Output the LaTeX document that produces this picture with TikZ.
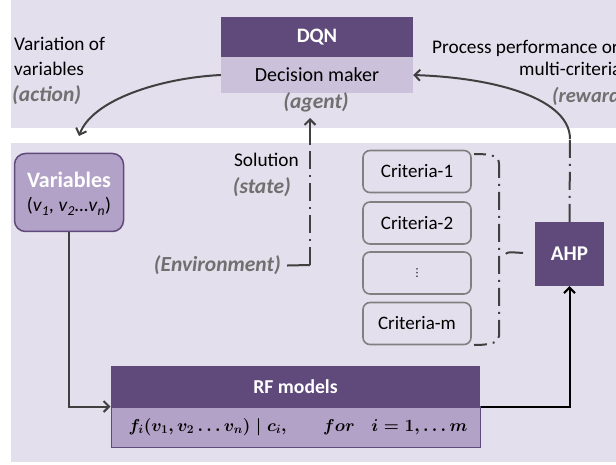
\documentclass[tikz,border=0pt]{standalone}
\usepackage[no-math]{fontspec}
\setmainfont{Carlito}
\newfontfamily\djv{DejaVu Sans}
\usetikzlibrary{arrows.meta}
\definecolor{bg}{HTML}{E4DFEC}
\definecolor{dq}{HTML}{604A7B}
\definecolor{lite}{HTML}{CCC1DA}
\definecolor{mid}{HTML}{B3A2C7}
\definecolor{gtx}{HTML}{707070}
\definecolor{ln}{HTML}{404040}
\definecolor{cg}{HTML}{808080}
\newcommand{\rfform}{$f_i(v_1, v_2 \ldots v_n) \mid c_i, \qquad for \quad i = 1, \ldots m$}
\tikzset{
  txt/.style={inner sep=0pt, font=\fontsize{19.3}{23}\selectfont, text=black},
  gtext/.style={inner sep=0pt, font=\fontsize{21.5}{25}\selectfont\bfseries\itshape, text=gtx},
  hdrbox/.style={fill=dq, inner sep=0pt, text=white, font=\fontsize{20.5}{24}\selectfont\bfseries},
  litebox/.style={fill=lite, inner sep=0pt, font=\fontsize{20}{24}\selectfont},
  critbox/.style={draw=cg, line width=1.6pt, rounded corners=7pt, fill=bg, inner sep=0pt,
    minimum width=108pt, minimum height=42pt, font=\fontsize{19}{23}\selectfont},
  conn/.style={draw=ln, line width=2pt},
  tip/.style={-{Straight Barb[length=5.5pt,width=11pt]}},
  dashdot/.style={dash pattern=on 18pt off 6pt on 2pt off 6pt},
}
\begin{document}
\begin{tikzpicture}[x=1pt,y=-1pt]
\useasboundingbox (0,0) rectangle (616,465);
\clip (0,0) rectangle (616,465);
% background panels
\fill[bg] (11,0) rectangle (616,128);
\fill[bg] (11,143) rectangle (616,462);

% DQN
\node[hdrbox, minimum width=192pt, minimum height=40pt] (dqn) at (317,37) {DQN};
\node[litebox, minimum width=192pt, minimum height=36pt] (dm) at (317,75) {Decision maker};
\node[gtext, anchor=base] (agent) at (316,109) {(agent)};

% left texts
\node[txt, anchor=base west] (va1) at (14,51) {Variation of};
\node[txt, anchor=base west] (va2) at (14,76) {variables};
\node[gtext, anchor=base west] (act) at (12,102) {(action)};

% right texts
\node[txt, anchor=base west] (pp1) at (432,54) {Process performance or};
\node[txt, anchor=base west] (pp2) at (519,76) {multi-criteria};
\node[gtext, anchor=base west, font=\fontsize{20.5}{24}\selectfont\bfseries\itshape] (rew) at (552,103) {(reward)};

% Variables
\node[fill=mid, draw=dq, line width=1.5pt, rounded corners=11pt, minimum width=109pt, minimum height=78pt, inner sep=0pt] (var) at (69,192.5) {};
\node[inner sep=0pt, anchor=base, text=white, font=\fontsize{22}{26}\selectfont\bfseries] (vart) at (69,188) {Variables};
\node[inner sep=0pt, anchor=base, font=\fontsize{19.5}{23}\selectfont] (vars) at (69,212) {(\textit{v}\textsubscript{\textit{1}}\textit{, v}\textsubscript{\textit{2}}\textit{…v}\textsubscript{\textit{n}})};

% Solution / Environment
\node[txt, anchor=base east] (sol) at (299,167) {Solution};
\node[gtext, anchor=base east] (st) at (291,194) {(state)};
\node[gtext, anchor=base east] (env) at (281,272) {(Environment)};

% Criteria
\node[critbox] (c1) at (417,171.5) {Criteria-1};
\node[critbox] (c2) at (417,223) {Criteria-2};
\node[critbox] (c3) at (417,273) {\djv\fontsize{11}{13}\selectfont ⋮};
\node[critbox] (cm) at (417,323.5) {Criteria-m};

% AHP
\node[hdrbox, minimum width=69pt, minimum height=64pt, font=\fontsize{21}{25}\selectfont\bfseries] (ahp) at (569.5,254) {AHP};

% RF models
\node[hdrbox, minimum width=369pt, minimum height=41pt, font=\fontsize{19.7}{24}\selectfont\bfseries] (rf) at (295.5,386.5) {RF models};
\node[fill=mid, draw=dq, line width=1pt, minimum width=369pt, minimum height=40pt, inner sep=0pt] (rfl) at (295.5,427) {};
\node[inner sep=0pt, anchor=base, font={\fontsize{16.6}{20}\selectfont\boldmath}] (frm) at (298,431) {\rfform};
\draw[dq, line width=1pt] (rfl.north west) -- (rfl.north east);

% connectors
\draw[conn, tip] (dm.west) .. controls (160,78) and (92,100) .. (79,136);
\coordinate (rtop) at (570,139);
\draw[conn, tip] (rtop) .. controls (570,100) and (500,78) .. (dm.east);
\draw[conn, dashdot] (ahp.north) -- (rtop);

\coordinate (envr) at (310,265);
\coordinate (stop) at (310,143);
\coordinate (stip) at (310,118);
\draw[conn, shorten <=6pt] (env.east) -- (envr);
\draw[conn, dashdot] (envr) -- (stop);
\draw[conn, tip] (stop) -- (stip);

\draw[conn, tip] (var.south) |- (rfl.north west);
\draw[draw=black, line width=2pt, tip] (rfl.north east) -| (ahp.south);

% brace
\coordinate (bt) at (474,154);
\coordinate (bb) at (474,345);
\draw[conn, dashdot, dash phase=6pt] (bt) .. controls (492,154) and (499,156) .. (499,164) -- (499,336) .. controls (499,342) and (492,345) .. (bb);
\coordinate (tk1) at (506,254);
\coordinate (tk2) at (523,253);
\draw[conn] (tk1) .. controls (507,252) and (509,252) .. (tk2);
\end{tikzpicture}
\end{document}
